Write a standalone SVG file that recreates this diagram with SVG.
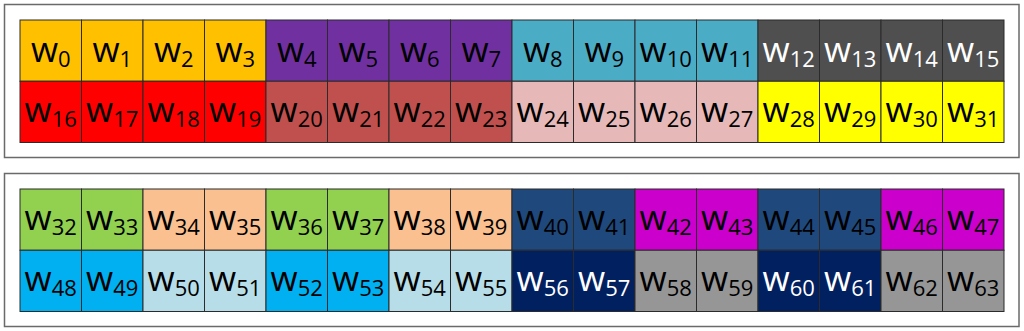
<svg xmlns="http://www.w3.org/2000/svg" width="1024" height="331" viewBox="0 0 1024 331">
<style>
.panel{fill:#fff;stroke:#6a6a6a;stroke-width:1.5}
.c rect{stroke:#2b2b2b;stroke-width:1}
text{font-family:"Open Sans","Noto Sans","DejaVu Sans",sans-serif;font-size:35px;text-anchor:middle;fill:#000}
.w{fill:#fff}
tspan{font-size:22px}
</style>
<rect width="1024" height="331" fill="#fff"/>
<rect class="panel" x="4.5" y="4.5" width="1014.5" height="153"/>
<rect class="panel" x="4.5" y="173.5" width="1014.5" height="153"/>
<g id="top-row1" class="c">
<g id="w0"><rect x="20" y="20" width="61.5" height="61.25" fill="#FFC000"/><text x="50.75" y="62">w<tspan dy="5">0</tspan></text></g>
<g id="w1"><rect x="81.5" y="20" width="61.5" height="61.25" fill="#FFC000"/><text x="112.25" y="62">w<tspan dy="5">1</tspan></text></g>
<g id="w2"><rect x="143" y="20" width="61.5" height="61.25" fill="#FFC000"/><text x="173.75" y="62">w<tspan dy="5">2</tspan></text></g>
<g id="w3"><rect x="204.5" y="20" width="61.5" height="61.25" fill="#FFC000"/><text x="235.25" y="62">w<tspan dy="5">3</tspan></text></g>
<g id="w4"><rect x="266" y="20" width="61.5" height="61.25" fill="#7030A0"/><text x="296.75" y="62">w<tspan dy="5">4</tspan></text></g>
<g id="w5"><rect x="327.5" y="20" width="61.5" height="61.25" fill="#7030A0"/><text x="358.25" y="62">w<tspan dy="5">5</tspan></text></g>
<g id="w6"><rect x="389" y="20" width="61.5" height="61.25" fill="#7030A0"/><text x="419.75" y="62">w<tspan dy="5">6</tspan></text></g>
<g id="w7"><rect x="450.5" y="20" width="61.5" height="61.25" fill="#7030A0"/><text x="481.25" y="62">w<tspan dy="5">7</tspan></text></g>
<g id="w8"><rect x="512" y="20" width="61.5" height="61.25" fill="#4BACC6"/><text x="542.75" y="62">w<tspan dy="5">8</tspan></text></g>
<g id="w9"><rect x="573.5" y="20" width="61.5" height="61.25" fill="#4BACC6"/><text x="604.25" y="62">w<tspan dy="5">9</tspan></text></g>
<g id="w10"><rect x="635" y="20" width="61.5" height="61.25" fill="#4BACC6"/><text x="665.75" y="62">w<tspan dy="5">10</tspan></text></g>
<g id="w11"><rect x="696.5" y="20" width="61.5" height="61.25" fill="#4BACC6"/><text x="727.25" y="62">w<tspan dy="5">11</tspan></text></g>
<g id="w12"><rect x="758" y="20" width="61.5" height="61.25" fill="#4F4F4F"/><text class="w" x="788.75" y="62">w<tspan dy="5">12</tspan></text></g>
<g id="w13"><rect x="819.5" y="20" width="61.5" height="61.25" fill="#4F4F4F"/><text class="w" x="850.25" y="62">w<tspan dy="5">13</tspan></text></g>
<g id="w14"><rect x="881" y="20" width="61.5" height="61.25" fill="#4F4F4F"/><text class="w" x="911.75" y="62">w<tspan dy="5">14</tspan></text></g>
<g id="w15"><rect x="942.5" y="20" width="61.5" height="61.25" fill="#4F4F4F"/><text class="w" x="973.25" y="62">w<tspan dy="5">15</tspan></text></g>
</g>
<g id="top-row2" class="c">
<g id="w16"><rect x="20" y="81.25" width="61.5" height="61.25" fill="#FF0000"/><text x="50.75" y="122">w<tspan dy="5">16</tspan></text></g>
<g id="w17"><rect x="81.5" y="81.25" width="61.5" height="61.25" fill="#FF0000"/><text x="112.25" y="122">w<tspan dy="5">17</tspan></text></g>
<g id="w18"><rect x="143" y="81.25" width="61.5" height="61.25" fill="#FF0000"/><text x="173.75" y="122">w<tspan dy="5">18</tspan></text></g>
<g id="w19"><rect x="204.5" y="81.25" width="61.5" height="61.25" fill="#FF0000"/><text x="235.25" y="122">w<tspan dy="5">19</tspan></text></g>
<g id="w20"><rect x="266" y="81.25" width="61.5" height="61.25" fill="#C0504D"/><text x="296.75" y="122">w<tspan dy="5">20</tspan></text></g>
<g id="w21"><rect x="327.5" y="81.25" width="61.5" height="61.25" fill="#C0504D"/><text x="358.25" y="122">w<tspan dy="5">21</tspan></text></g>
<g id="w22"><rect x="389" y="81.25" width="61.5" height="61.25" fill="#C0504D"/><text x="419.75" y="122">w<tspan dy="5">22</tspan></text></g>
<g id="w23"><rect x="450.5" y="81.25" width="61.5" height="61.25" fill="#C0504D"/><text x="481.25" y="122">w<tspan dy="5">23</tspan></text></g>
<g id="w24"><rect x="512" y="81.25" width="61.5" height="61.25" fill="#E6B9B8"/><text x="542.75" y="122">w<tspan dy="5">24</tspan></text></g>
<g id="w25"><rect x="573.5" y="81.25" width="61.5" height="61.25" fill="#E6B9B8"/><text x="604.25" y="122">w<tspan dy="5">25</tspan></text></g>
<g id="w26"><rect x="635" y="81.25" width="61.5" height="61.25" fill="#E6B9B8"/><text x="665.75" y="122">w<tspan dy="5">26</tspan></text></g>
<g id="w27"><rect x="696.5" y="81.25" width="61.5" height="61.25" fill="#E6B9B8"/><text x="727.25" y="122">w<tspan dy="5">27</tspan></text></g>
<g id="w28"><rect x="758" y="81.25" width="61.5" height="61.25" fill="#FFFF00"/><text x="788.75" y="122">w<tspan dy="5">28</tspan></text></g>
<g id="w29"><rect x="819.5" y="81.25" width="61.5" height="61.25" fill="#FFFF00"/><text x="850.25" y="122">w<tspan dy="5">29</tspan></text></g>
<g id="w30"><rect x="881" y="81.25" width="61.5" height="61.25" fill="#FFFF00"/><text x="911.75" y="122">w<tspan dy="5">30</tspan></text></g>
<g id="w31"><rect x="942.5" y="81.25" width="61.5" height="61.25" fill="#FFFF00"/><text x="973.25" y="122">w<tspan dy="5">31</tspan></text></g>
</g>
<g id="bottom-row1" class="c">
<g id="w32"><rect x="20" y="189" width="61.5" height="61.25" fill="#92D050"/><text x="50.75" y="230">w<tspan dy="5">32</tspan></text></g>
<g id="w33"><rect x="81.5" y="189" width="61.5" height="61.25" fill="#92D050"/><text x="112.25" y="230">w<tspan dy="5">33</tspan></text></g>
<g id="w34"><rect x="143" y="189" width="61.5" height="61.25" fill="#FAC090"/><text x="173.75" y="230">w<tspan dy="5">34</tspan></text></g>
<g id="w35"><rect x="204.5" y="189" width="61.5" height="61.25" fill="#FAC090"/><text x="235.25" y="230">w<tspan dy="5">35</tspan></text></g>
<g id="w36"><rect x="266" y="189" width="61.5" height="61.25" fill="#92D050"/><text x="296.75" y="230">w<tspan dy="5">36</tspan></text></g>
<g id="w37"><rect x="327.5" y="189" width="61.5" height="61.25" fill="#92D050"/><text x="358.25" y="230">w<tspan dy="5">37</tspan></text></g>
<g id="w38"><rect x="389" y="189" width="61.5" height="61.25" fill="#FAC090"/><text x="419.75" y="230">w<tspan dy="5">38</tspan></text></g>
<g id="w39"><rect x="450.5" y="189" width="61.5" height="61.25" fill="#FAC090"/><text x="481.25" y="230">w<tspan dy="5">39</tspan></text></g>
<g id="w40"><rect x="512" y="189" width="61.5" height="61.25" fill="#1F497D"/><text x="542.75" y="230">w<tspan dy="5">40</tspan></text></g>
<g id="w41"><rect x="573.5" y="189" width="61.5" height="61.25" fill="#1F497D"/><text x="604.25" y="230">w<tspan dy="5">41</tspan></text></g>
<g id="w42"><rect x="635" y="189" width="61.5" height="61.25" fill="#CC00CC"/><text x="665.75" y="230">w<tspan dy="5">42</tspan></text></g>
<g id="w43"><rect x="696.5" y="189" width="61.5" height="61.25" fill="#CC00CC"/><text x="727.25" y="230">w<tspan dy="5">43</tspan></text></g>
<g id="w44"><rect x="758" y="189" width="61.5" height="61.25" fill="#1F497D"/><text x="788.75" y="230">w<tspan dy="5">44</tspan></text></g>
<g id="w45"><rect x="819.5" y="189" width="61.5" height="61.25" fill="#1F497D"/><text x="850.25" y="230">w<tspan dy="5">45</tspan></text></g>
<g id="w46"><rect x="881" y="189" width="61.5" height="61.25" fill="#CC00CC"/><text x="911.75" y="230">w<tspan dy="5">46</tspan></text></g>
<g id="w47"><rect x="942.5" y="189" width="61.5" height="61.25" fill="#CC00CC"/><text x="973.25" y="230">w<tspan dy="5">47</tspan></text></g>
</g>
<g id="bottom-row2" class="c">
<g id="w48"><rect x="20" y="250.25" width="61.5" height="61.25" fill="#00B0F0"/><text x="50.75" y="291">w<tspan dy="5">48</tspan></text></g>
<g id="w49"><rect x="81.5" y="250.25" width="61.5" height="61.25" fill="#00B0F0"/><text x="112.25" y="291">w<tspan dy="5">49</tspan></text></g>
<g id="w50"><rect x="143" y="250.25" width="61.5" height="61.25" fill="#B7DEE8"/><text x="173.75" y="291">w<tspan dy="5">50</tspan></text></g>
<g id="w51"><rect x="204.5" y="250.25" width="61.5" height="61.25" fill="#B7DEE8"/><text x="235.25" y="291">w<tspan dy="5">51</tspan></text></g>
<g id="w52"><rect x="266" y="250.25" width="61.5" height="61.25" fill="#00B0F0"/><text x="296.75" y="291">w<tspan dy="5">52</tspan></text></g>
<g id="w53"><rect x="327.5" y="250.25" width="61.5" height="61.25" fill="#00B0F0"/><text x="358.25" y="291">w<tspan dy="5">53</tspan></text></g>
<g id="w54"><rect x="389" y="250.25" width="61.5" height="61.25" fill="#B7DEE8"/><text x="419.75" y="291">w<tspan dy="5">54</tspan></text></g>
<g id="w55"><rect x="450.5" y="250.25" width="61.5" height="61.25" fill="#B7DEE8"/><text x="481.25" y="291">w<tspan dy="5">55</tspan></text></g>
<g id="w56"><rect x="512" y="250.25" width="61.5" height="61.25" fill="#002060"/><text class="w" x="542.75" y="291">w<tspan dy="5">56</tspan></text></g>
<g id="w57"><rect x="573.5" y="250.25" width="61.5" height="61.25" fill="#002060"/><text class="w" x="604.25" y="291">w<tspan dy="5">57</tspan></text></g>
<g id="w58"><rect x="635" y="250.25" width="61.5" height="61.25" fill="#969696"/><text x="665.75" y="291">w<tspan dy="5">58</tspan></text></g>
<g id="w59"><rect x="696.5" y="250.25" width="61.5" height="61.25" fill="#969696"/><text x="727.25" y="291">w<tspan dy="5">59</tspan></text></g>
<g id="w60"><rect x="758" y="250.25" width="61.5" height="61.25" fill="#002060"/><text class="w" x="788.75" y="291">w<tspan dy="5">60</tspan></text></g>
<g id="w61"><rect x="819.5" y="250.25" width="61.5" height="61.25" fill="#002060"/><text class="w" x="850.25" y="291">w<tspan dy="5">61</tspan></text></g>
<g id="w62"><rect x="881" y="250.25" width="61.5" height="61.25" fill="#969696"/><text x="911.75" y="291">w<tspan dy="5">62</tspan></text></g>
<g id="w63"><rect x="942.5" y="250.25" width="61.5" height="61.25" fill="#969696"/><text x="973.25" y="291">w<tspan dy="5">63</tspan></text></g>
</g>
<g id="connectors"/>
</svg>
